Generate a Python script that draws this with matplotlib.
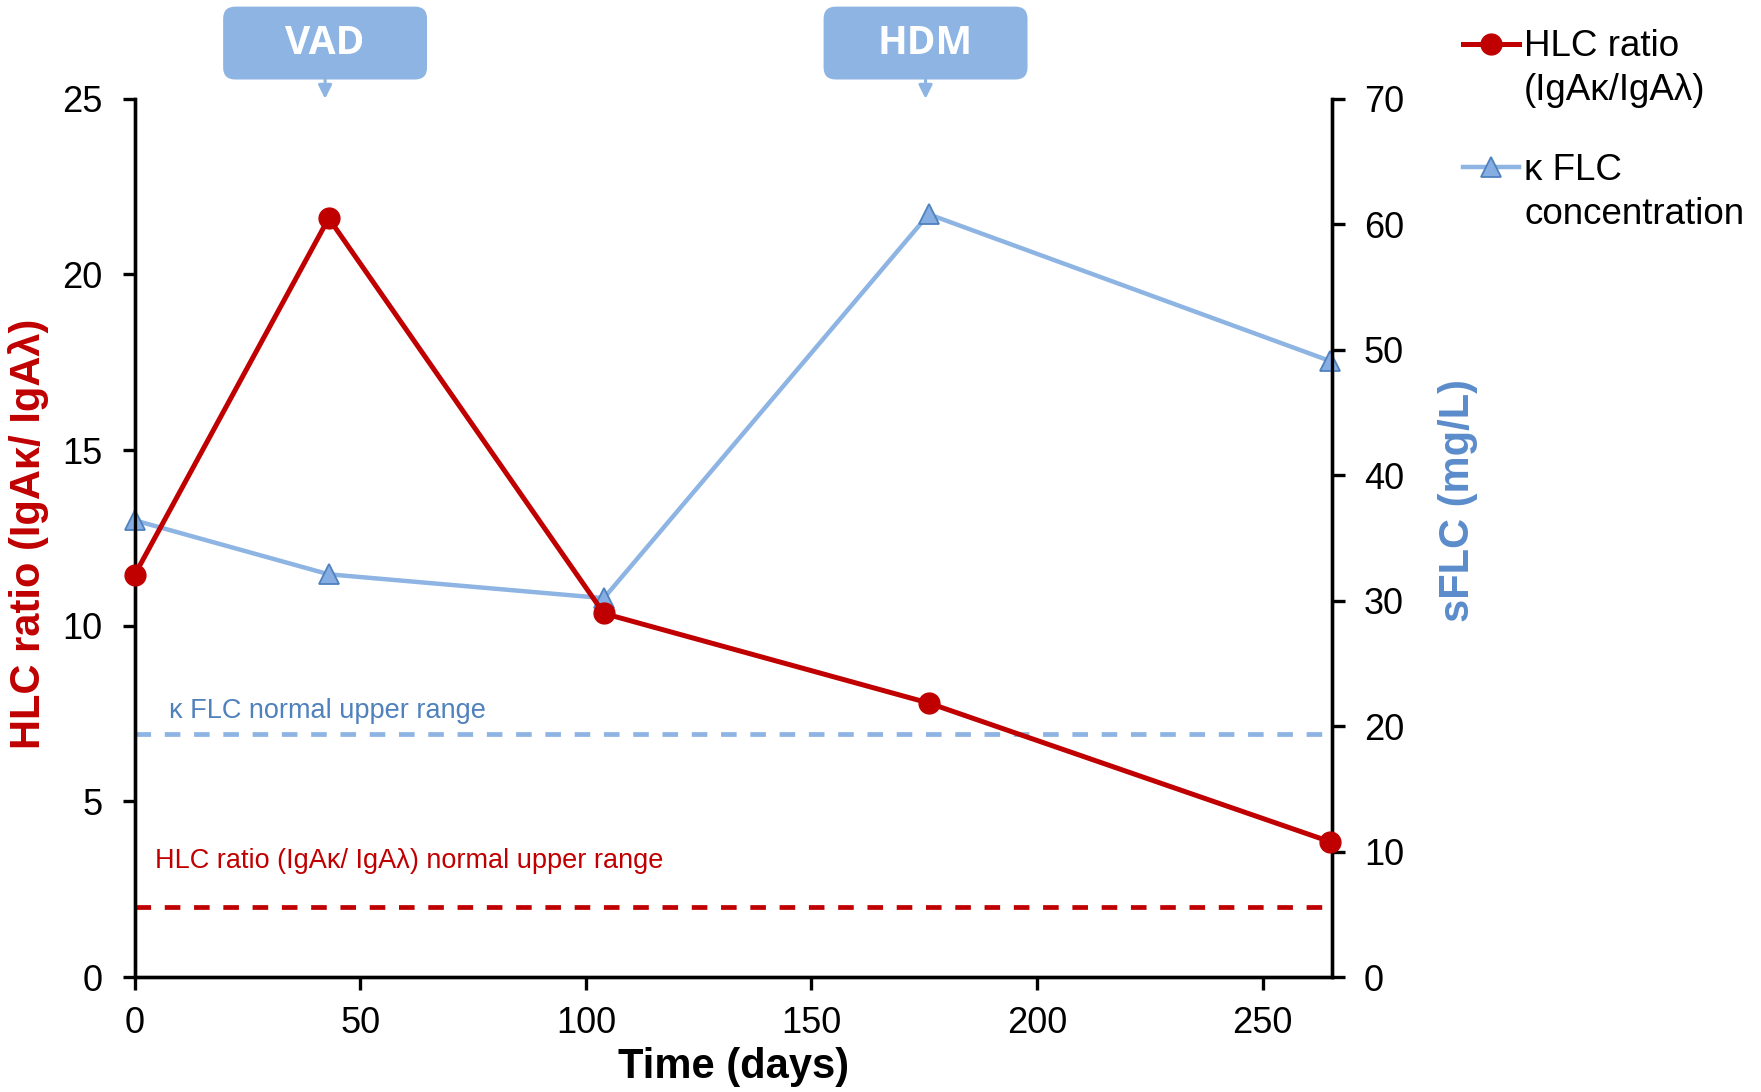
import matplotlib.pyplot as plt
from matplotlib.patches import FancyBboxPatch
from matplotlib.transforms import blended_transform_factory

plt.rcParams['font.family'] = ['Liberation Sans', 'DejaVu Sans']

# data
days = [0, 43, 104, 176, 265]
hlc_ratio = [11.45, 21.6, 10.35, 7.8, 3.85]
kappa_flc = [36.4, 32.1, 30.2, 60.8, 49.1]
hlc_upper_normal = 2.0
kappa_upper_normal = 19.4
treatments = ['VAD', 'HDM']
treatment_days = [42.2, 175.3]

red = '#C00000'
blue = '#8DB4E2'
dark_blue = '#4F81BD'

fig = plt.figure(figsize=(17.61, 10.92), dpi=100)
ax = fig.add_axes([0.0765, 0.1053, 0.6799, 0.8042])
ax2 = ax.twinx()

# reference lines
ax.axhline(hlc_upper_normal, color=red, lw=3.4, ls=(0, (3.3, 2.9)))
ax2.axhline(kappa_upper_normal, color=blue, lw=3.4, ls=(0, (3.3, 2.9)))

l2, = ax2.plot(days, kappa_flc, color=blue, lw=3.2, marker='^', ms=15,
               mfc='#86AEE3', mec=dark_blue, mew=1.3, clip_on=False, zorder=3)
l1, = ax.plot(days, hlc_ratio, color=red, lw=3.6, marker='o', ms=15,
              mfc=red, mec=red, clip_on=False, zorder=3)
ax.set_zorder(ax2.get_zorder() + 1)
ax.patch.set_visible(False)

ax.set_xlim(0, 265.4)
ax.set_ylim(0, 25)
ax2.set_ylim(0, 70)
ax.set_xticks(range(0, 251, 50))
ax.set_yticks(range(0, 26, 5))
ax2.set_yticks(range(0, 71, 10))

for a in (ax, ax2):
    a.spines['top'].set_visible(False)
    for s in a.spines.values():
        s.set_linewidth(2.4)
    a.tick_params(width=2.4, length=9, labelsize=26, direction='out')
ax.tick_params(axis='x', pad=12)
ax.tick_params(axis='y', pad=14)
ax2.tick_params(axis='y', pad=14)

ax.text(7.5, 7.58, 'κ FLC normal upper range', color=dark_blue, fontsize=19.5,
        va='center', ha='left')
ax.text(4.5, 3.29, 'HLC ratio (IgAκ/ IgAλ) normal upper range', color=red,
        fontsize=19.5, va='center', ha='left')

ax.set_xlabel('Time (days)', fontsize=30, fontweight='bold', va='center')
ax.xaxis.set_label_coords(0.5, -0.1025)
ax.set_ylabel('HLC ratio (IgAκ/ IgAλ)', fontsize=30, fontweight='bold',
              color=red, va='center')
ax.yaxis.set_label_coords(-0.0885, 0.505)
ax2.set_ylabel('sFLC (mg/L)', fontsize=30, fontweight='bold',
               color='#5B8CCB', va='center')
ax2.yaxis.set_label_coords(1.105, 0.543)

# treatment boxes above the plot
trans = blended_transform_factory(ax.transData, ax.transAxes)
for name, d in zip(treatments, treatment_days):
    box = FancyBboxPatch((d - 22.6, 1.022), 45.2, 0.083,
                         boxstyle='round,pad=0,rounding_size=2.7',
                         transform=trans, fc=blue, ec='none', clip_on=False,
                         mutation_aspect=0.0051)
    ax.add_patch(box)
    ax.text(d, 1.063, name, transform=trans, color='white', fontsize=28,
            fontweight='bold', family=['Open Sans', 'DejaVu Sans'],
            ha='center', va='center')
    ax.annotate('', xy=(d, 1.0), xycoords=trans, xytext=(d, 1.022),
                textcoords=trans,
                arrowprops=dict(arrowstyle='-|>', color=blue, lw=2.2,
                                mutation_scale=20, shrinkA=0, shrinkB=0))

# legend: handle sits on the first line of each label
leg = fig.legend(handles=[l1, l2], labels=['HLC ratio', 'κ FLC'],
                 loc='upper left', bbox_to_anchor=(0.831, 0.973),
                 frameon=False, fontsize=26.5, handlelength=1.5,
                 handletextpad=0.15, labelspacing=2.4, borderpad=0,
                 borderaxespad=0)
fig.canvas.draw()
for t, extra in zip(leg.get_texts(), ['(IgAκ/IgAλ)', 'concentration']):
    bb = t.get_window_extent()
    fig.text(bb.x0 / fig.bbox.width, (bb.y0 - 44) / fig.bbox.height, extra,
             fontsize=26.5, ha='left', va='bottom')

fig.savefig('out.png', dpi=100)
